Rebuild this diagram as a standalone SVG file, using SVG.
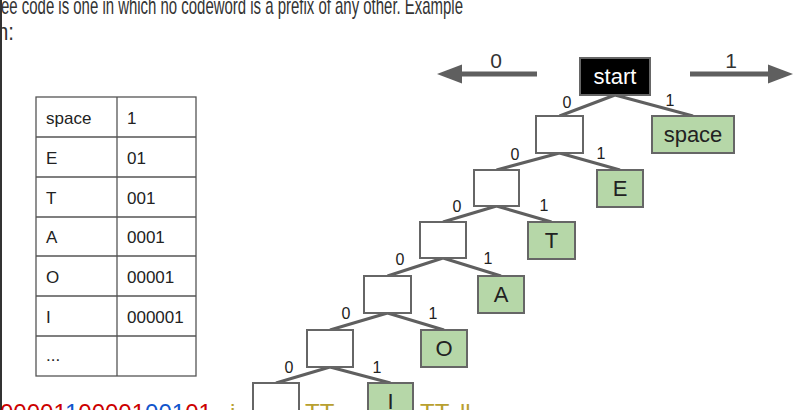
<svg xmlns="http://www.w3.org/2000/svg" width="794" height="410" viewBox="0 0 794 410">
<defs>
<style>
.t{font-family:"Liberation Sans",Arial,sans-serif;fill:#222}
.hd{font-size:24px;fill:#333}
.tb{font-size:17px}
.lbl{font-size:16px;text-anchor:middle}
.big{font-size:22px;text-anchor:middle}
.arr{font-size:21px;text-anchor:middle;fill:#333}
.empty{fill:#fff;stroke:#666;stroke-width:2}
.leaf{fill:#b6d7a8;stroke:#666;stroke-width:2}
.edge{stroke:#5f5f5f;stroke-width:3;fill:none}
.bigarrow{stroke:#5f5f5f;stroke-width:5;fill:none}
.head{fill:#5f5f5f}
.grid{stroke:#555;stroke-width:1.3;fill:none}
.bt{font-family:"Liberation Sans",Arial,sans-serif;font-size:24px}
</style>
</defs>
<rect width="794" height="410" fill="#fff"/>
<line x1="1" y1="0" x2="1" y2="410" stroke="#333" stroke-width="2"/>
<text class="t hd" x="1" y="14" textLength="462" lengthAdjust="spacingAndGlyphs">ee code is one in which no codeword is a prefix of any other. Example</text>
<text class="t hd" x="-3" y="40" textLength="17" lengthAdjust="spacingAndGlyphs">n:</text>

<!-- bottom coloured text (clipped) -->
<text class="bt" x="0" y="421"><tspan fill="#cc0000">00001</tspan><tspan fill="#1155cc">1</tspan><tspan fill="#cc0000">00001</tspan><tspan fill="#1155cc">001</tspan><tspan fill="#cc0000">01</tspan></text>
<text class="bt" y="421" fill="#b8a030"><tspan x="230">i</tspan><tspan x="262">dd</tspan><tspan x="292">l</tspan><tspan x="305">TT</tspan><tspan x="366">l</tspan><tspan x="420">TT</tspan><tspan x="460">ll</tspan></text>

<!-- table -->
<g id="table">
<rect class="grid" x="36" y="97" width="160" height="279"/>
<line class="grid" x1="117" y1="97" x2="117" y2="376"/>
<line class="grid" x1="36" y1="137" x2="196" y2="137"/>
<line class="grid" x1="36" y1="177" x2="196" y2="177"/>
<line class="grid" x1="36" y1="217" x2="196" y2="217"/>
<line class="grid" x1="36" y1="256" x2="196" y2="256"/>
<line class="grid" x1="36" y1="296" x2="196" y2="296"/>
<line class="grid" x1="36" y1="336" x2="196" y2="336"/>
<text class="t tb" x="46" y="124">space</text><text class="t tb" x="127" y="124">1</text>
<text class="t tb" x="46" y="164">E</text><text class="t tb" x="127" y="164">01</text>
<text class="t tb" x="46" y="204">T</text><text class="t tb" x="127" y="204">001</text>
<text class="t tb" x="46" y="243">A</text><text class="t tb" x="127" y="243">0001</text>
<text class="t tb" x="46" y="283">O</text><text class="t tb" x="127" y="283">00001</text>
<text class="t tb" x="46" y="323">I</text><text class="t tb" x="127" y="323">000001</text>
<text class="t tb" x="46" y="361">...</text>
</g>

<!-- connectors -->
<g id="connectors">
<line class="bigarrow" x1="537" y1="74" x2="458" y2="74"/>
<polygon class="head" points="437,74 462,64.5 462,83.5"/>
<line class="bigarrow" x1="690" y1="74" x2="772" y2="74"/>
<polygon class="head" points="793,74 768,64.5 768,83.5"/>
<path class="edge" d="M615,95 L559.5,116 M615,95 L693,116"/>
<path class="edge" d="M559.5,153 L496.5,170 M559.5,153 L620,170"/>
<path class="edge" d="M496.5,206 L443,222 M496.5,206 L551.5,222"/>
<path class="edge" d="M443,258 L387.5,276 M443,258 L501,276"/>
<path class="edge" d="M387.5,313 L330,330 M387.5,313 L444,330"/>
<path class="edge" d="M330,367 L276,383 M330,367 L390.5,383"/>
<text class="t arr" x="496" y="68">0</text>
<text class="t arr" x="731" y="68">1</text>
<text class="t lbl" x="567" y="108">0</text><text class="t lbl" x="670" y="106">1</text>
<text class="t lbl" x="515" y="160">0</text><text class="t lbl" x="601" y="159">1</text>
<text class="t lbl" x="457" y="212">0</text><text class="t lbl" x="544" y="211">1</text>
<text class="t lbl" x="400" y="265">0</text><text class="t lbl" x="488" y="264">1</text>
<text class="t lbl" x="346" y="319">0</text><text class="t lbl" x="433" y="319">1</text>
<text class="t lbl" x="289" y="373">0</text><text class="t lbl" x="377" y="373">1</text>
</g>

<g id="start"><rect x="580" y="58" width="70" height="37" fill="#000" stroke="#666" stroke-width="2"/><text class="t big" x="615" y="84" style="fill:#fff">start</text></g>
<g id="n1"><rect class="empty" x="536" y="116" width="47" height="37"/></g>
<g id="space"><rect class="leaf" x="652" y="116" width="82" height="37"/><text class="t big" x="693" y="142">space</text></g>
<g id="n2"><rect class="empty" x="474" y="170" width="45" height="36"/></g>
<g id="E"><rect class="leaf" x="597" y="170" width="46" height="37"/><text class="t big" x="620" y="196">E</text></g>
<g id="n3"><rect class="empty" x="420" y="222" width="46" height="36"/></g>
<g id="T"><rect class="leaf" x="528" y="222" width="47" height="37"/><text class="t big" x="551.5" y="248">T</text></g>
<g id="n4"><rect class="empty" x="364" y="276" width="47" height="37"/></g>
<g id="A"><rect class="leaf" x="478" y="276" width="46" height="37"/><text class="t big" x="501" y="302">A</text></g>
<g id="n5"><rect class="empty" x="307" y="330" width="46" height="37"/></g>
<g id="O"><rect class="leaf" x="421" y="330" width="46" height="37"/><text class="t big" x="444" y="356">O</text></g>
<g id="n6"><rect class="empty" x="253" y="383" width="46" height="37"/></g>
<g id="I"><rect class="leaf" x="368" y="383" width="45" height="37"/><text class="t big" x="390.5" y="409">I</text></g>
</svg>
